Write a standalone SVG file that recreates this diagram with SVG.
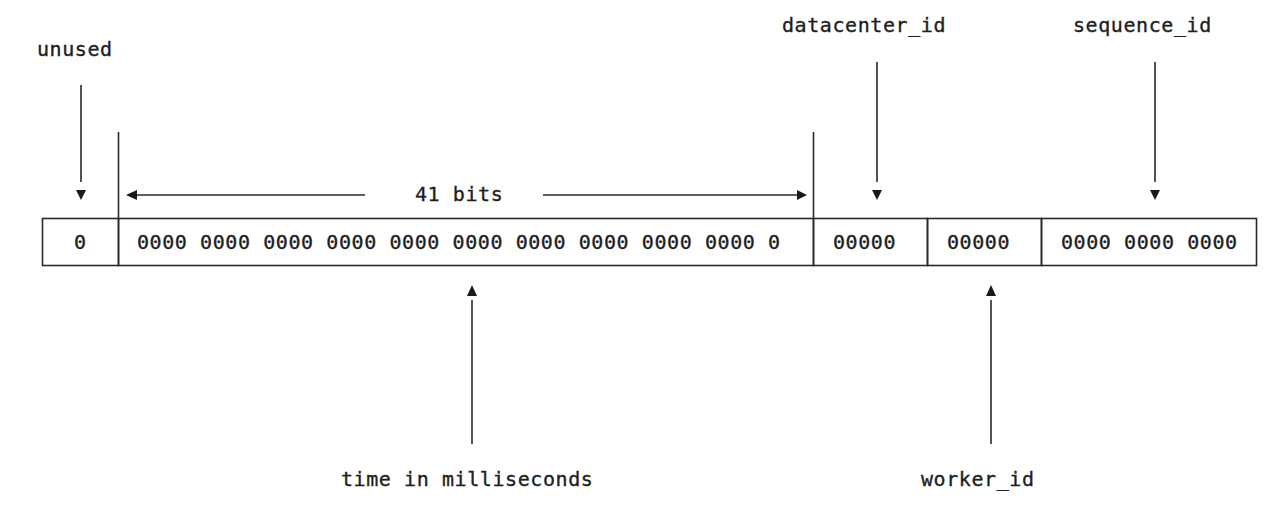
<svg xmlns="http://www.w3.org/2000/svg" width="1284" height="514" viewBox="0 0 1284 514">
  <style>
    .t { font-family: "DejaVu Sans Mono", "Liberation Mono", monospace; font-size: 20px; letter-spacing: 0.58px; fill: #1e1e1e; stroke: #1e1e1e; stroke-width: 0.35; }
    .ln { stroke: #2a2a2a; stroke-width: 1.6; fill: none; }
    .hd { fill: #1a1a1a; stroke: none; }
  </style>
  <rect width="1284" height="514" fill="#ffffff"/>

  <g id="cell-unused">
    <rect class="ln" x="42.5" y="218.5" width="76" height="47"/>
    <text class="t" x="74" y="249">0</text>
  </g>
  <g id="cell-time">
    <rect class="ln" x="118.5" y="218.5" width="695" height="47"/>
    <text class="t" x="137" y="249">0000 0000 0000 0000 0000 0000 0000 0000 0000 0000 0</text>
  </g>
  <g id="cell-datacenter">
    <rect class="ln" x="813.5" y="218.5" width="114" height="47"/>
    <text class="t" x="833" y="249">00000</text>
  </g>
  <g id="cell-worker">
    <rect class="ln" x="927.5" y="218.5" width="114" height="47"/>
    <text class="t" x="947" y="249">00000</text>
  </g>
  <g id="cell-sequence">
    <rect class="ln" x="1041.5" y="218.5" width="215" height="47"/>
    <text class="t" x="1061" y="249">0000 0000 0000</text>
  </g>

  <g id="label-unused"><text class="t" x="37" y="56">unused</text></g>
  <g id="label-datacenter"><text class="t" x="782" y="32">datacenter_id</text></g>
  <g id="label-sequence"><text class="t" x="1073" y="32">sequence_id</text></g>
  <g id="label-41bits"><text class="t" x="415" y="201">41 bits</text></g>
  <g id="label-time"><text class="t" x="341" y="486">time in milliseconds</text></g>
  <g id="label-worker"><text class="t" x="921" y="486">worker_id</text></g>

  <g id="connectors">
    <line class="ln" x1="118.5" y1="132" x2="118.5" y2="218"/>
    <line class="ln" x1="813.5" y1="132" x2="813.5" y2="218"/>

    <line class="ln" x1="81" y1="85" x2="81" y2="182"/>
    <polygon class="hd" points="76,190 86,190 81,200"/>

    <line class="ln" x1="877" y1="62" x2="877" y2="182"/>
    <polygon class="hd" points="872,190 882,190 877,200"/>

    <line class="ln" x1="1155" y1="62" x2="1155" y2="182"/>
    <polygon class="hd" points="1150,190 1160,190 1155,200"/>

    <line class="ln" x1="137" y1="195" x2="365" y2="195"/>
    <polygon class="hd" points="126,195 137,190 137,200"/>
    <line class="ln" x1="543" y1="195" x2="797" y2="195"/>
    <polygon class="hd" points="807,195 797,190 797,200"/>

    <line class="ln" x1="472" y1="300" x2="472" y2="444"/>
    <polygon class="hd" points="472,285 467,296 477,296"/>

    <line class="ln" x1="991" y1="300" x2="991" y2="444"/>
    <polygon class="hd" points="991,285 986,296 996,296"/>
  </g>
</svg>
